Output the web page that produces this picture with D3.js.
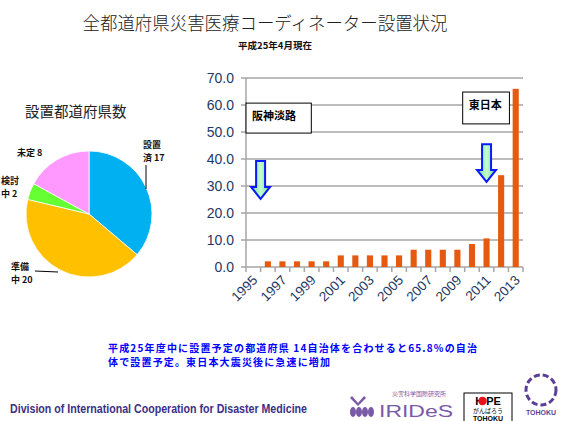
<!DOCTYPE html>
<html>
<head>
<meta charset="utf-8">
<script src="https://d3js.org/d3.v7.min.js"></script>
<style>
  body { margin: 0; background: #fff; }
  svg { display: block; background: #fff; }
  text { font-family: "Noto Sans CJK JP", "Liberation Sans", sans-serif; }
  .num { font-family: "Liberation Sans", Arial, sans-serif; }
</style>
</head>
<body>
<svg width="561" height="421"></svg>
<script>
// データ
const years = ["1995","1996","1997","1998","1999","2000","2001","2002","2003","2004",
               "2005","2006","2007","2008","2009","2010","2011","2012","2013"];
const rates = [0, 2.1, 2.1, 2.1, 2.1, 2.1, 4.3, 4.3, 4.3, 4.3,
               4.3, 6.4, 6.4, 6.4, 6.4, 8.5, 10.6, 34.0, 66.0];
const yTicks = [0, 10, 20, 30, 40, 50, 60, 70];
const xLabels = ["1995","1997","1999","2001","2003","2005","2007","2009","2011","2013"];

const pieNames = ["設置済", "準備中", "検討中", "未定"];
const pieCounts = [17, 20, 2, 8];
const pieColors = ["#00b0f0", "#ffc000", "#66ff33", "#ff99ff"];

// 注記（年, 上端, 先端）
const arrows = [
  { year: "1995", edge: true, top: 39.3, tip: 25.2 },
  { year: "2011", edge: false, top: 45.5, tip: 31.5 }
];
const notes = [
  { label: "阪神淡路", from: "1995", to: "1999", top: 60.7, bottom: 49.6 },
  { label: "東日本", from: "2010", to: "2013", top: 64.8, bottom: 53.0 }
];

const svg = d3.select("svg");

// タイトル
svg.append("text").attr("x", 265).attr("y", 30).attr("text-anchor", "middle")
  .attr("font-size", 18).attr("font-weight", 300).attr("fill", "#222")
  .attr("textLength", 365).attr("lengthAdjust", "spacingAndGlyphs")
  .text("全都道府県災害医療コーディネーター設置状況");
svg.append("text").attr("x", 275).attr("y", 49).attr("text-anchor", "middle")
  .attr("font-size", 9.5).attr("font-weight", "bold").attr("fill", "#111")
  .text("平成25年4月現在");

// 棒グラフ
const x = d3.scaleBand().domain(years).range([246, 523]);
const y = d3.scaleLinear().domain([0, 70]).range([267, 78]);
const bar = svg.append("g");

bar.append("g").selectAll("line").data(yTicks).join("line")
  .attr("x1", 241).attr("x2", 523)
  .attr("y1", d => y(d)).attr("y2", d => y(d))
  .attr("stroke", "#a6a6a6").attr("stroke-width", 1.5);
bar.append("line").attr("x1", 246).attr("x2", 246).attr("y1", y(70)).attr("y2", y(0))
  .attr("stroke", "#a6a6a6").attr("stroke-width", 1.5);
bar.append("g").selectAll("line").data(years.concat(["end"])).join("line")
  .attr("x1", (d, i) => x.range()[0] + i * x.bandwidth())
  .attr("x2", (d, i) => x.range()[0] + i * x.bandwidth())
  .attr("y1", y(0)).attr("y2", y(0) + 5)
  .attr("stroke", "#a6a6a6").attr("stroke-width", 1.5);

bar.append("g").selectAll("text").data(yTicks).join("text")
  .attr("class", "num")
  .attr("x", 234).attr("y", d => y(d)).attr("dy", "0.36em")
  .attr("text-anchor", "end").attr("font-size", 14).attr("fill", "#1f3864")
  .text(d => d.toFixed(1));

bar.append("g").selectAll("text").data(xLabels).join("text")
  .attr("class", "num")
  .attr("transform", d => `translate(${x(d) + x.bandwidth() / 2 + 5},281) rotate(-45)`)
  .attr("text-anchor", "end").attr("font-size", 13.5).attr("fill", "#1f3864")
  .text(d => d);

const bw = x.bandwidth() * 0.42;
bar.append("g").selectAll("rect").data(rates).join("rect")
  .attr("x", (d, i) => x(years[i]) + (x.bandwidth() - bw) / 2)
  .attr("width", bw)
  .attr("y", d => y(d)).attr("height", d => y(0) - y(d))
  .attr("fill", "#e55a10");

// 注記ボックス
notes.forEach(n => {
  const x0 = n.from === "1995" ? x(n.from) : x(n.from) - 2;
  const x1 = n.from === "1995" ? x(n.to) + 7 : x(n.to) + 1;
  bar.append("rect").attr("x", x0).attr("y", y(n.top))
    .attr("width", x1 - x0).attr("height", y(n.bottom) - y(n.top))
    .attr("fill", "#fff").attr("stroke", "#000").attr("stroke-width", 1);
  bar.append("text").attr("x", x0 + 6).attr("y", y(n.top) + 17)
    .attr("font-size", 11).attr("font-weight", "bold").attr("fill", "#000")
    .text(n.label);
});

// 矢印
const defs = svg.append("defs");
const grad = defs.append("linearGradient").attr("id", "ag").attr("x1", 0).attr("x2", 1);
grad.append("stop").attr("offset", "0%").attr("stop-color", "#6fd98a");
grad.append("stop").attr("offset", "50%").attr("stop-color", "#c4ffcc");
grad.append("stop").attr("offset", "100%").attr("stop-color", "#6fd98a");
arrows.forEach(a => {
  const cx = a.edge ? x(a.year) + x.bandwidth() : x(a.year) + x.bandwidth() / 2;
  const t = y(a.top), p = y(a.tip), h = p - 12;
  const pts = [[cx - 4.5, t], [cx + 4.5, t], [cx + 4.5, h], [cx + 9.5, h],
               [cx, p], [cx - 9.5, h], [cx - 4.5, h]];
  bar.append("path").attr("d", d3.line()(pts) + "Z")
    .attr("fill", "url(#ag)").attr("stroke", "#0a1aff").attr("stroke-width", 2)
    .attr("stroke-linejoin", "miter");
});

// 円グラフ
svg.append("text").attr("x", 25).attr("y", 117)
  .attr("font-size", 14.5).attr("fill", "#222")
  .text("設置都道府県数");

const pie = d3.pie().sort(null).value(d => d)(pieCounts);
const arc = d3.arc().innerRadius(0).outerRadius(63);
const pg = svg.append("g").attr("transform", "translate(89,214)");
pg.selectAll("path").data(pie).join("path")
  .attr("d", arc).attr("fill", (d, i) => pieColors[i])
  .attr("stroke", "#fff").attr("stroke-width", 0.8);

const lab = svg.append("g").attr("font-size", 9).attr("font-weight", "bold").attr("fill", "#111");
function label2(xx, yy, l1, l2) {
  lab.append("text").attr("x", xx).attr("y", yy).text(l1);
  lab.append("text").attr("x", xx).attr("y", yy + 13).text(l2);
}
label2(143, 148, "設置", `済 ${pieCounts[0]}`);
label2(11, 270, "準備", `中 ${pieCounts[1]}`);
label2(1, 184, "検討", `中 ${pieCounts[2]}`);
lab.append("text").attr("x", 17).attr("y", 156).text(`未定 ${pieCounts[3]}`);
svg.append("line").attr("x1", 146).attr("x2", 146).attr("y1", 165).attr("y2", 189)
  .attr("stroke", "#000").attr("stroke-width", 1);
svg.append("line").attr("x1", 35).attr("x2", 58).attr("y1", 271).attr("y2", 272)
  .attr("stroke", "#000").attr("stroke-width", 1);

// コメント
const note = svg.append("g").attr("font-size", 10).attr("font-weight", "bold").attr("fill", "#0000ff");
note.append("text").attr("x", 108).attr("y", 352)
  .attr("textLength", 369).attr("lengthAdjust", "spacing")
  .text("平成25年度中に設置予定の都道府県 14自治体を合わせると65.8%の自治");
note.append("text").attr("x", 108).attr("y", 366)
  .attr("textLength", 222).attr("lengthAdjust", "spacing")
  .text("体で設置予定。東日本大震災後に急速に増加");

// フッター
svg.append("text").attr("class", "num").attr("x", 10).attr("y", 413)
  .attr("font-size", 12).attr("font-weight", "bold").attr("fill", "#3c2f84")
  .attr("textLength", 297).attr("lengthAdjust", "spacingAndGlyphs")
  .text("Division of International Cooperation for Disaster Medicine");

// IRIDeS ロゴ
const ir = svg.append("g").attr("fill", "#7a5aa6");
[[351, 410], [357, 410], [363, 410], [369, 410]].forEach((c, i) => {
  ir.append("ellipse").attr("cx", c[0] + 2).attr("cy", c[1] + 2).attr("rx", 3).attr("ry", 5);
});
ir.append("path").attr("d", "M352,396 L358,403 L364,396 L366,398 L358,406 L350,398Z");
ir.append("text").attr("class", "num").attr("x", 379).attr("y", 417)
  .attr("font-size", 16).attr("textLength", 74).attr("lengthAdjust", "spacingAndGlyphs").text("IRIDeS");
ir.append("text").attr("x", 392).attr("y", 396).attr("font-size", 6).text("災害科学国際研究所");

// HOPE ロゴ
const hp = svg.append("g");
hp.append("rect").attr("x", 464).attr("y", 393).attr("width", 48).attr("height", 30)
  .attr("fill", "#fff").attr("stroke", "#000").attr("stroke-width", 1);
hp.append("text").attr("class", "num").attr("x", 488).attr("y", 405).attr("text-anchor", "middle")
  .attr("font-size", 11).attr("font-weight", "bold").attr("fill", "#000").text("H  PE");
hp.append("circle").attr("cx", 482.5).attr("cy", 401).attr("r", 4.2).attr("fill", "#e8101a");
hp.append("text").attr("x", 488).attr("y", 413).attr("text-anchor", "middle")
  .attr("font-size", 6).attr("fill", "#000").text("がんばろう");
hp.append("text").attr("class", "num").attr("x", 488).attr("y", 421).attr("text-anchor", "middle")
  .attr("font-size", 7).attr("font-weight", "bold").attr("fill", "#000").text("TOHOKU");

// 東北大学ロゴ
const th = svg.append("g");
th.append("circle").attr("cx", 541).attr("cy", 390).attr("r", 15)
  .attr("fill", "none").attr("stroke", "#5a3f96").attr("stroke-width", 3)
  .attr("stroke-dasharray", "6 3");
th.append("text").attr("class", "num").attr("x", 541).attr("y", 415).attr("text-anchor", "middle")
  .attr("font-size", 7).attr("font-weight", "bold").attr("fill", "#5a3f96").text("TOHOKU");
</script>
</body>
</html>
